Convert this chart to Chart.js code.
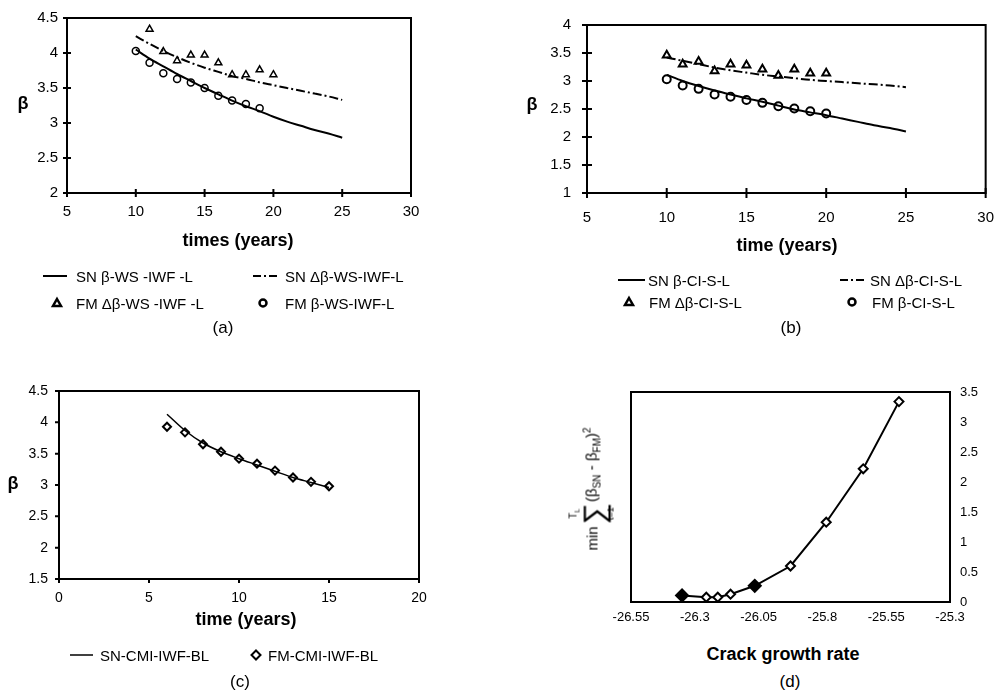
<!DOCTYPE html>
<html>
<head>
<meta charset="utf-8">
<script src="https://cdn.jsdelivr.net/npm/chart.js@4.4.1/dist/chart.umd.min.js"></script>
<style>
  body { margin: 0; width: 997px; height: 695px; overflow: hidden; background: #fff; color: #000;
         font-family: "Liberation Sans", Arial, sans-serif; position: relative; }
  canvas { position: absolute; }
  .c { position: absolute; transform: translate(-50%, -50%); white-space: nowrap; }
  .l { position: absolute; transform: translateY(-50%); white-space: nowrap; font-size: 15px; }
  .b { font-weight: bold; font-size: 18px; }
  .p { font-size: 17px; }
  svg { position: absolute; overflow: visible; }
</style>
</head>
<body>
<canvas id="ca" width="440" height="235" style="left:0;top:0"></canvas>
<canvas id="cb" width="510" height="235" style="left:500px;top:0"></canvas>
<canvas id="cc" width="440" height="255" style="left:0;top:360px"></canvas>
<canvas id="cd" width="440" height="275" style="left:560px;top:360px"></canvas>

<!-- (a) -->
<div class="c b" style="left:23px;top:103px">β</div>
<div class="c b" style="left:238px;top:240px">times (years)</div>
<svg style="left:43px;top:276px" width="24" height="1"><line x1="0" y1="0" x2="24" y2="0" stroke="#000" stroke-width="2"/></svg>
<div class="l" style="left:76px;top:276px">SN β-WS -IWF -L</div>
<svg style="left:253px;top:276px" width="24" height="1"><line x1="0" y1="0" x2="24" y2="0" stroke="#000" stroke-width="2" stroke-dasharray="8,3,2,3,8"/></svg>
<div class="l" style="left:285px;top:276px">SN Δβ-WS-IWF-L</div>
<svg style="left:57px;top:303px" width="1" height="1"><polygon points="0,-4 4,3 -4,3" fill="#fff" stroke="#000" stroke-width="2.5"/></svg>
<div class="l" style="left:76px;top:303px">FM Δβ-WS -IWF -L</div>
<svg style="left:263px;top:303px" width="1" height="1"><circle cx="0" cy="0" r="3.5" fill="#fff" stroke="#000" stroke-width="2.5"/></svg>
<div class="l" style="left:285px;top:303px">FM β-WS-IWF-L</div>
<div class="c p" style="left:223px;top:328px">(a)</div>

<!-- (b) -->
<div class="c b" style="left:532px;top:104px">β</div>
<div class="c b" style="left:787px;top:245px">time (years)</div>
<svg style="left:618px;top:280px" width="27" height="1"><line x1="0" y1="0" x2="27" y2="0" stroke="#000" stroke-width="2"/></svg>
<div class="l" style="left:648px;top:280px">SN β-CI-S-L</div>
<svg style="left:840px;top:280px" width="24" height="1"><line x1="0" y1="0" x2="24" y2="0" stroke="#000" stroke-width="2" stroke-dasharray="8,3,2,3,8"/></svg>
<div class="l" style="left:870px;top:280px">SN Δβ-CI-S-L</div>
<svg style="left:629px;top:302px" width="1" height="1"><polygon points="0,-4 4,3 -4,3" fill="#fff" stroke="#000" stroke-width="2.5"/></svg>
<div class="l" style="left:649px;top:302px">FM Δβ-CI-S-L</div>
<svg style="left:852px;top:302px" width="1" height="1"><circle cx="0" cy="0" r="3.5" fill="#fff" stroke="#000" stroke-width="2.5"/></svg>
<div class="l" style="left:872px;top:302px">FM β-CI-S-L</div>
<div class="c p" style="left:791px;top:328px">(b)</div>

<!-- (c) -->
<div class="c b" style="left:13px;top:483px">β</div>
<div class="c b" style="left:246px;top:619px">time (years)</div>
<svg style="left:70px;top:655px" width="23" height="1"><line x1="0" y1="0" x2="23" y2="0" stroke="#000" stroke-width="1.5"/></svg>
<div class="l" style="left:100px;top:655px">SN-CMI-IWF-BL</div>
<svg style="left:256px;top:655px" width="1" height="1"><polygon points="0,-4.5 4.5,0 0,4.5 -4.5,0" fill="#fff" stroke="#000" stroke-width="2"/></svg>
<div class="l" style="left:268px;top:655px">FM-CMI-IWF-BL</div>
<div class="c p" style="left:240px;top:682px">(c)</div>

<!-- (d) -->
<div class="c" style="left:592px;top:489px;transform:translate(-50%,-50%) rotate(-90deg);font-size:15px;display:flex;align-items:center">
  <span>min</span>
  <span style="display:inline-flex;flex-direction:column;align-items:center;line-height:1;margin:0 1px 0 2px">
    <span style="font-size:10px;line-height:10px">T<sub style="font-size:7px">L</sub></span>
    <span style="font-size:30px;line-height:24px;font-family:'DejaVu Sans',sans-serif;font-weight:300">∑</span>
    <span style="font-size:9px;line-height:9px">t=1</span>
  </span>
  <span>(β<sub style="font-size:10px">SN</sub> - β<sub style="font-size:10px">FM</sub>)<sup style="font-size:10px">2</sup></span>
</div>
<div class="c b" style="left:783px;top:654px">Crack growth rate</div>
<div class="c p" style="left:790px;top:682px">(d)</div>

<script>
// (a) WS-IWF-L
const A_YEARS_SN = [10, 11, 12, 13, 14, 15, 16, 17, 18, 19, 20, 21, 22, 23, 24, 25];
const A_SN_BETA = [4.05, 3.92, 3.81, 3.70, 3.60, 3.50, 3.41, 3.32, 3.24, 3.17, 3.09, 3.02, 2.96, 2.90, 2.85, 2.79];
const A_SN_DBETA = [4.24, 4.13, 4.03, 3.94, 3.86, 3.79, 3.73, 3.67, 3.63, 3.58, 3.54, 3.50, 3.46, 3.42, 3.38, 3.33];
const A_YEARS_FM_D = [11, 12, 13, 14, 15, 16, 17, 18, 19, 20];
const A_FM_DBETA = [4.34, 4.02, 3.89, 3.97, 3.97, 3.86, 3.69, 3.69, 3.76, 3.69];
const A_YEARS_FM = [10, 11, 12, 13, 14, 15, 16, 17, 18, 19];
const A_FM_BETA = [4.03, 3.86, 3.71, 3.63, 3.58, 3.50, 3.39, 3.32, 3.27, 3.21];
const A_XTICKS = [5, 10, 15, 20, 25, 30];
const A_YTICKS = [2, 2.5, 3, 3.5, 4, 4.5];

// (b) CI-S-L
const B_YEARS_SN = [10, 11, 12, 13, 14, 15, 16, 17, 18, 19, 20, 21, 22, 23, 24, 25];
const B_SN_BETA = [3.11, 3.00, 2.91, 2.83, 2.76, 2.69, 2.63, 2.56, 2.49, 2.44, 2.39, 2.33, 2.27, 2.21, 2.16, 2.10];
const B_SN_DBETA = [3.42, 3.36, 3.30, 3.24, 3.19, 3.15, 3.11, 3.08, 3.05, 3.02, 3.00, 2.98, 2.96, 2.94, 2.92, 2.89];
const B_YEARS_FM = [10, 11, 12, 13, 14, 15, 16, 17, 18, 19, 20];
const B_FM_DBETA = [3.46, 3.30, 3.35, 3.18, 3.30, 3.28, 3.21, 3.10, 3.21, 3.14, 3.14];
const B_FM_BETA = [3.03, 2.92, 2.86, 2.76, 2.72, 2.66, 2.61, 2.55, 2.51, 2.46, 2.42];
const B_XTICKS = [5, 10, 15, 20, 25, 30];
const B_YTICKS = [1, 1.5, 2, 2.5, 3, 3.5, 4];

// (c) CMI-IWF-BL
const C_YEARS = [6, 7, 8, 9, 10, 11, 12, 13, 14, 15];
const C_SN = [4.13, 3.87, 3.67, 3.53, 3.42, 3.32, 3.22, 3.12, 3.04, 2.96];
const C_FM = [3.93, 3.84, 3.65, 3.53, 3.42, 3.34, 3.23, 3.12, 3.05, 2.98];
const C_XTICKS = [0, 5, 10, 15, 20];
const C_YTICKS = [1.5, 2, 2.5, 3, 3.5, 4, 4.5];

// (d) crack growth rate
const D_RATE = [-26.35, -26.255, -26.21, -26.16, -26.065, -25.925, -25.785, -25.64, -25.5];
const D_ERR = [0.11, 0.08, 0.08, 0.13, 0.27, 0.60, 1.33, 2.22, 3.34];
const D_FILLED = [true, false, false, false, true, false, false, false, false];
const D_XTICKS = [-26.55, -26.3, -26.05, -25.8, -25.55, -25.3];
const D_YTICKS = [0, 0.5, 1, 1.5, 2, 2.5, 3, 3.5];

const FONT = '"Liberation Sans", Arial, sans-serif';

const framePlugin = {
  id: 'frame',
  afterDatasetsDraw(chart, args, o) {
    const ctx = chart.ctx, a = chart.chartArea;
    ctx.save();
    ctx.strokeStyle = '#000';
    ctx.lineWidth = 2;
    ctx.strokeRect(a.left, a.top, a.right - a.left, a.bottom - a.top);
    const tin = o.tickIn || 0, tout = o.tickOut || 0;
    if (tin || tout) {
      const xs = chart.scales.x, ys = chart.scales.y;
      ctx.lineWidth = 2;
      ctx.beginPath();
      xs.ticks.forEach(t => {
        const px = xs.getPixelForValue(t.value);
        ctx.moveTo(px, a.bottom - tin);
        ctx.lineTo(px, a.bottom + tout);
      });
      ys.ticks.forEach(t => {
        const py = ys.getPixelForValue(t.value);
        ctx.moveTo(a.left - tout, py);
        ctx.lineTo(a.left + tin, py);
      });
      ctx.stroke();
    }
    ctx.restore();
  }
};

function axis(ticks, size, pad, fontSize, extra) {
  return Object.assign({
    type: 'linear',
    min: ticks[0],
    max: ticks[ticks.length - 1],
    grid: { display: false, drawTicks: false },
    border: { display: false },
    ticks: {
      padding: pad,
      color: '#000',
      font: { family: FONT, size: fontSize },
      autoSkip: false,
      maxRotation: 0,
      callback: v => String(v)
    },
    afterBuildTicks: s => { s.ticks = ticks.map(v => ({ value: v })); }
  }, extra || {}, {
    afterFit: s => {
      if (s.isHorizontal()) s.height = size; else s.width = size;
    }
  });
}

function pts(xs, ys) {
  return xs.map((x, i) => ({ x, y: ys[i] }));
}

function makeChart(id, datasets, xAxis, yAxis, padding, frame) {
  return new Chart(document.getElementById(id), {
    type: 'scatter',
    data: { datasets },
    options: {
      responsive: false,
      animation: false,
      events: [],
      layout: { padding },
      plugins: { legend: { display: false }, tooltip: { enabled: false }, frame },
      scales: { x: xAxis, y: yAxis }
    },
    plugins: [framePlugin]
  });
}

const solid = (data, w) => ({ data, showLine: true, borderColor: '#000', borderWidth: w || 2, pointRadius: 0, tension: 0.4, cubicInterpolationMode: 'monotone', fill: false });
const dashDot = (data) => Object.assign(solid(data), { borderDash: [9, 3, 2, 3] });
const marks = (data, style, r, w) => ({ data, showLine: false, pointStyle: style, pointRadius: r, borderColor: '#000', backgroundColor: '#fff', pointBackgroundColor: '#fff', pointBorderColor: '#000', pointBorderWidth: w });

makeChart('ca', [
  solid(pts(A_YEARS_SN, A_SN_BETA)),
  dashDot(pts(A_YEARS_SN, A_SN_DBETA)),
  marks(pts(A_YEARS_FM_D, A_FM_DBETA), 'triangle', 4, 1.5),
  marks(pts(A_YEARS_FM, A_FM_BETA), 'circle', 3.5, 1.5)
], axis(A_XTICKS, 42, 10, 15), axis(A_YTICKS, 67, 9, 15), { top: 16, right: 29 }, { tickIn: 4, tickOut: 4 });

makeChart('cb', [
  solid(pts(B_YEARS_SN, B_SN_BETA)),
  dashDot(pts(B_YEARS_SN, B_SN_DBETA)),
  marks(pts(B_YEARS_FM, B_FM_DBETA), 'triangle', 4.5, 2),
  marks(pts(B_YEARS_FM, B_FM_BETA), 'circle', 4, 2)
], axis(B_XTICKS, 42, 16, 15), axis(B_YTICKS, 87, 16, 15), { top: 15, right: 21 }, { tickIn: 5, tickOut: 5 });

makeChart('cc', [
  solid(pts(C_YEARS, C_SN), 1.5),
  marks(pts(C_YEARS, C_FM), 'rectRot', 4, 2)
], axis(C_XTICKS, 36, 11, 14), axis(C_YTICKS, 59, 11, 14), { top: 31, right: 21 }, { tickIn: 0, tickOut: 4 });

makeChart('cd', [
  Object.assign(marks(pts(D_RATE, D_ERR), 'rectRot', 0, 2), {
    showLine: true,
    borderWidth: 2,
    tension: 0,
    pointRadius: D_FILLED.map(f => f ? 6 : 4.5),
    pointBackgroundColor: D_FILLED.map(f => f ? '#000' : '#fff')
  })
], axis(D_XTICKS, 33, 8, 13), axis(D_YTICKS, 40, 10, 13, { position: 'right' }), { top: 32, left: 71, right: 10 }, {});
</script>
</body>
</html>
